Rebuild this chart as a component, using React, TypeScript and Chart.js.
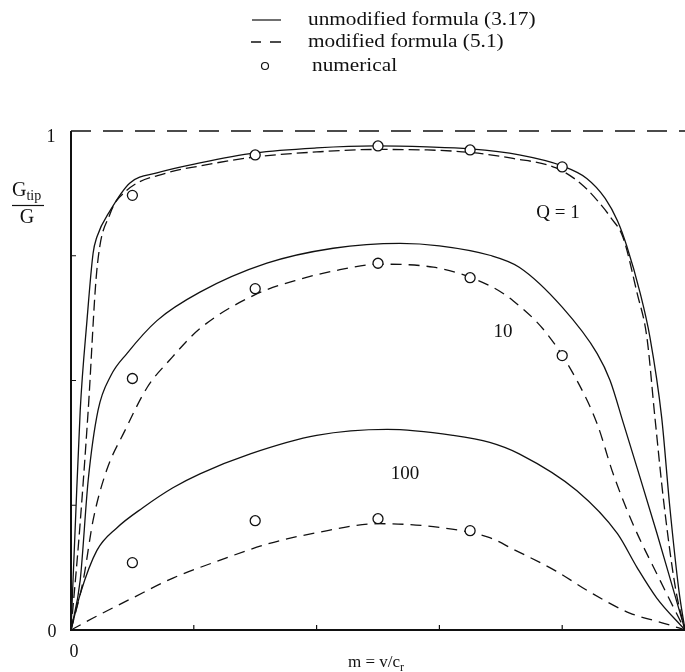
import React, { useEffect, useRef } from "react";
import { Chart, registerables } from "chart.js";

Chart.register(...registerables);

// ---- data ----
const q1SolidX = [0, 0.007, 0.015, 0.026, 0.036, 0.042, 0.064, 0.096, 0.14, 0.21, 0.3, 0.4, 0.495, 0.58, 0.65, 0.73, 0.8, 0.84, 0.87, 0.89, 0.905, 0.927, 0.943, 0.962, 0.975, 0.99, 1];
const q1SolidY = [0, 0.21, 0.44, 0.62, 0.755, 0.787, 0.841, 0.896, 0.916, 0.936, 0.956, 0.966, 0.97, 0.968, 0.964, 0.952, 0.93, 0.905, 0.865, 0.82, 0.77, 0.675, 0.586, 0.426, 0.25, 0.08, 0];

const q1DashX = [0, 0.014, 0.028, 0.042, 0.064, 0.09, 0.156, 0.21, 0.3, 0.4, 0.495, 0.58, 0.65, 0.72, 0.79, 0.83, 0.857, 0.88, 0.899, 0.922, 0.938, 0.951, 0.966, 0.985, 1];
const q1DashY = [0, 0.2, 0.44, 0.72, 0.835, 0.88, 0.916, 0.93, 0.948, 0.958, 0.963, 0.962, 0.957, 0.945, 0.926, 0.895, 0.861, 0.825, 0.787, 0.675, 0.586, 0.426, 0.25, 0.08, 0];

const q10SolidX = [0, 0.015, 0.028, 0.044, 0.065, 0.091, 0.14, 0.21, 0.319, 0.427, 0.536, 0.6, 0.682, 0.73, 0.8, 0.857, 0.878, 0.9, 0.922, 0.954, 0.98, 1];
const q10SolidY = [0, 0.1, 0.3, 0.44, 0.51, 0.554, 0.62, 0.677, 0.735, 0.765, 0.775, 0.77, 0.751, 0.727, 0.647, 0.554, 0.5, 0.413, 0.325, 0.195, 0.085, 0];

const q10DashX = [0, 0.02, 0.036, 0.058, 0.088, 0.124, 0.16, 0.21, 0.3, 0.373, 0.438, 0.5, 0.59, 0.682, 0.72, 0.775, 0.824, 0.857, 0.883, 0.915, 0.96, 0.99, 1];
const q10DashY = [0, 0.1, 0.22, 0.32, 0.4, 0.486, 0.54, 0.604, 0.672, 0.703, 0.722, 0.733, 0.727, 0.69, 0.66, 0.594, 0.5, 0.413, 0.313, 0.213, 0.098, 0.024, 0];

const q100SolidX = [0, 0.015, 0.042, 0.075, 0.117, 0.166, 0.21, 0.292, 0.4, 0.515, 0.622, 0.682, 0.73, 0.824, 0.89, 0.922, 0.954, 1];
const q100SolidY = [0, 0.072, 0.159, 0.205, 0.245, 0.285, 0.313, 0.353, 0.39, 0.402, 0.39, 0.376, 0.353, 0.279, 0.193, 0.125, 0.064, 0];

const q100DashX = [0, 0.036, 0.1, 0.166, 0.243, 0.319, 0.4, 0.5, 0.59, 0.682, 0.72, 0.79, 0.845, 0.91, 0.97, 1];
const q100DashY = [0, 0.024, 0.064, 0.104, 0.14, 0.172, 0.195, 0.213, 0.207, 0.185, 0.162, 0.118, 0.076, 0.034, 0.012, 0];

const limitX = [0, 1];
const limitY = [1, 1];

const numQ1X = [0.1, 0.3, 0.5, 0.65, 0.8];
const numQ1Y = [0.871, 0.952, 0.97, 0.962, 0.928];
const numQ10X = [0.1, 0.3, 0.5, 0.65, 0.8];
const numQ10Y = [0.504, 0.684, 0.735, 0.706, 0.55];
const numQ100X = [0.1, 0.3, 0.5, 0.65];
const numQ100Y = [0.135, 0.219, 0.223, 0.199];

const legendLabels = ["unmodified formula (3.17)", "modified formula (5.1)", "numerical"];
const curveLabels = ["Q = 1", "10", "100"];
const xMinorTicks = [0.2, 0.4, 0.6, 0.8];
const yMinorTicks = [0.25, 0.5, 0.75];

const zip = (xs: number[], ys: number[]) => xs.map((x, i) => ({ x, y: ys[i] }));

const SERIF = '"Liberation Serif", "Times New Roman", serif';
const INK = "#111";

function stretchedText(ctx: CanvasRenderingContext2D, text: string, x: number, y: number, sx: number) {
  ctx.save();
  ctx.translate(x, y);
  ctx.scale(sx, 1);
  ctx.fillText(text, 0, 0);
  ctx.restore();
}

const overlay = {
  id: "overlay",
  afterDraw(chart: any) {
    const ctx: CanvasRenderingContext2D = chart.ctx;
    const xs = chart.scales.x;
    const ys = chart.scales.y;
    const x0 = xs.getPixelForValue(0);
    const x1 = xs.getPixelForValue(1);
    const y0 = ys.getPixelForValue(0);
    const y1 = ys.getPixelForValue(1);
    ctx.save();
    ctx.strokeStyle = INK;
    ctx.fillStyle = INK;
    // axes
    ctx.lineWidth = 2;
    ctx.beginPath();
    ctx.moveTo(x0, y1);
    ctx.lineTo(x0, y0);
    ctx.lineTo(x1, y0);
    ctx.stroke();
    ctx.lineWidth = 1.2;
    ctx.beginPath();
    for (const t of yMinorTicks) {
      const p = ys.getPixelForValue(t);
      ctx.moveTo(x0, p);
      ctx.lineTo(x0 + 5, p);
    }
    for (const t of xMinorTicks) {
      const p = xs.getPixelForValue(t);
      ctx.moveTo(p, y0);
      ctx.lineTo(p, y0 - 5);
    }
    ctx.stroke();

    // tick labels
    ctx.font = `18px ${SERIF}`;
    ctx.textAlign = "center";
    ctx.textBaseline = "middle";
    ctx.fillText("1", x0 - 20, y1 + 6);
    ctx.fillText("0", x0 - 19, y0 + 2);
    ctx.fillText("0", x0 + 3, y0 + 22);

    // x title
    ctx.font = `17px ${SERIF}`;
    ctx.textAlign = "left";
    ctx.textBaseline = "alphabetic";
    const t1 = "m = v/c";
    const w1 = ctx.measureText(t1).width;
    const cx = 376;
    ctx.font = `12px ${SERIF}`;
    const w2 = ctx.measureText("r").width;
    const start = cx - (w1 + w2) / 2;
    ctx.font = `17px ${SERIF}`;
    ctx.fillText(t1, start, 667);
    ctx.font = `12px ${SERIF}`;
    ctx.fillText("r", start + w1, 671);

    // y title fraction
    ctx.font = `20px ${SERIF}`;
    ctx.fillText("G", 12, 196);
    const gw = ctx.measureText("G").width;
    ctx.font = `14px ${SERIF}`;
    ctx.fillText("tip", 12 + gw, 200);
    ctx.lineWidth = 1.2;
    ctx.beginPath();
    ctx.moveTo(12, 205.5);
    ctx.lineTo(44, 205.5);
    ctx.stroke();
    ctx.font = `20px ${SERIF}`;
    ctx.textAlign = "center";
    ctx.fillText("G", 27, 223);

    // curve labels
    ctx.font = `19px ${SERIF}`;
    ctx.textAlign = "center";
    ctx.textBaseline = "middle";
    ctx.fillText(curveLabels[0], 558, 213);
    ctx.fillText(curveLabels[1], 503, 332);
    ctx.fillText(curveLabels[2], 405, 474);

    // legend
    ctx.textAlign = "left";
    ctx.font = `19px ${SERIF}`;
    ctx.lineWidth = 1.2;
    ctx.beginPath();
    ctx.moveTo(252, 20);
    ctx.lineTo(281, 20);
    ctx.stroke();
    ctx.lineWidth = 1.6;
    ctx.beginPath();
    ctx.moveTo(251, 42);
    ctx.lineTo(261, 42);
    ctx.moveTo(270, 42);
    ctx.lineTo(281, 42);
    ctx.stroke();
    ctx.lineWidth = 1.2;
    ctx.beginPath();
    ctx.arc(265, 66, 3.5, 0, Math.PI * 2);
    ctx.stroke();
    stretchedText(ctx, legendLabels[0], 308, 20, 1.12);
    stretchedText(ctx, legendLabels[1], 308, 42, 1.12);
    stretchedText(ctx, legendLabels[2], 312, 66, 1.12);
    ctx.restore();
  },
};

const lineDs = (label: string, xs: number[], ys: number[], dash: number[], width = 1.3) => ({
  label,
  data: zip(xs, ys),
  borderColor: INK,
  borderWidth: width,
  borderDash: dash,
  pointRadius: 0,
  cubicInterpolationMode: "monotone" as const,
  fill: false,
});

const ptDs = (label: string, xs: number[], ys: number[]) => ({
  label,
  data: zip(xs, ys),
  showLine: false,
  pointRadius: 5,
  pointBackgroundColor: "#fff",
  pointBorderColor: INK,
  pointBorderWidth: 1.3,
  borderColor: INK,
});

export default function App() {
  const ref = useRef<HTMLCanvasElement | null>(null);
  useEffect(() => {
    document.body.style.margin = "0";
    document.body.style.overflow = "hidden";
    const canvas = ref.current;
    if (!canvas) return;
    const chart = new Chart(canvas, {
      type: "line",
      data: {
        datasets: [
          ptDs("numerical Q=1", numQ1X, numQ1Y),
          ptDs("numerical Q=10", numQ10X, numQ10Y),
          ptDs("numerical Q=100", numQ100X, numQ100Y),
          lineDs("unmodified Q=1", q1SolidX, q1SolidY, []),
          lineDs("modified Q=1", q1DashX, q1DashY, [11, 5]),
          lineDs("unmodified Q=10", q10SolidX, q10SolidY, []),
          lineDs("modified Q=10", q10DashX, q10DashY, [11, 7]),
          lineDs("unmodified Q=100", q100SolidX, q100SolidY, []),
          lineDs("modified Q=100", q100DashX, q100DashY, [11, 7]),
          lineDs("limit", limitX, limitY, [20, 12], 1.6),
        ] as any,
      },
      options: {
        animation: false,
        responsive: false,
        events: [],
        layout: { autoPadding: false, padding: { left: 71, right: 0, top: 131, bottom: 42 } },
        scales: {
          x: { type: "linear", min: 0, max: 1, display: false },
          y: { type: "linear", min: 0, max: 1, display: false },
        },
        plugins: {
          legend: { display: false },
          tooltip: { enabled: false },
        },
        elements: { line: { tension: 0 } },
        clip: false as any,
      },
      plugins: [overlay],
    });
    return () => chart.destroy();
  }, []);
  return (
    <div style={{ width: 685, height: 672, background: "#fff" }}>
      <canvas ref={ref} width={685} height={672} style={{ display: "block" }} />
    </div>
  );
}
